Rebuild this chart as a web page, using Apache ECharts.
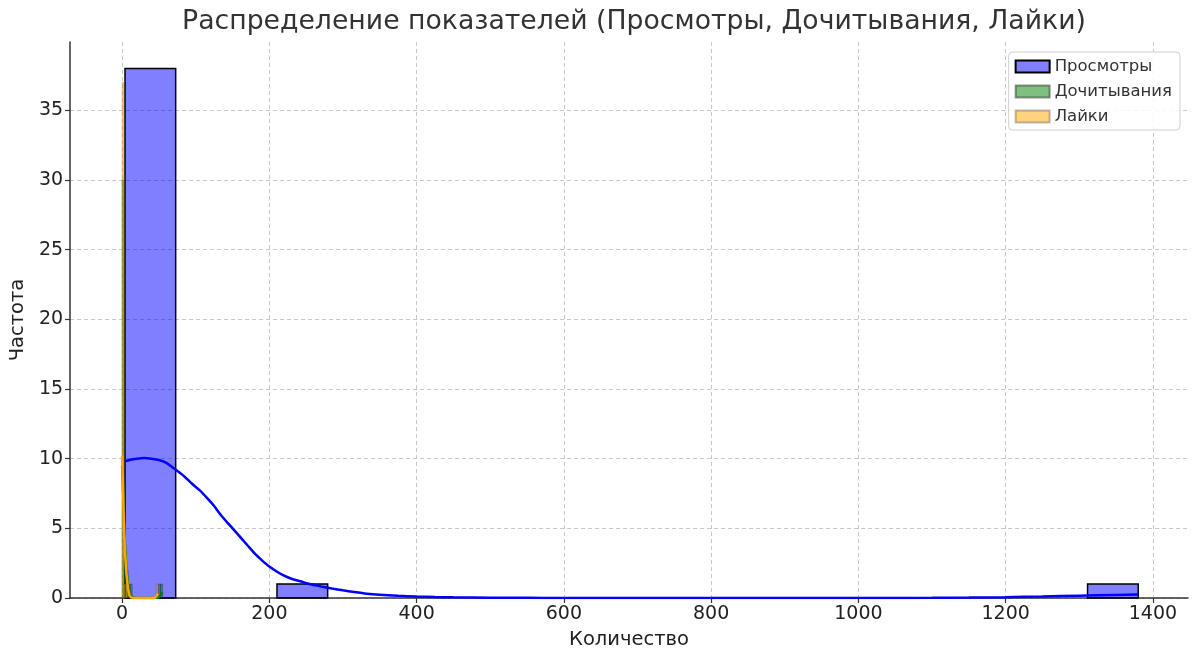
<!DOCTYPE html>
<html><head><meta charset="utf-8">
<script src="https://cdn.jsdelivr.net/npm/echarts@6/dist/echarts.min.js"></script>
<style>html,body{margin:0;padding:0;background:#fff}#c{width:1200px;height:662px}</style>
</head><body><div id="c"></div>
<script>
// Bin edges (left,right) and counts
const viewsBinStart = 4, viewsBinWidth = 68.8;
const viewsCounts = [38,0,0,1,0,0,0,0,0,0,0,0,0,0,0,0,0,0,0,1];
const readsBinStart = 0, readsBinWidth = 2.75;
const readsCounts = [30,3,2,1,1,0,0,0,0,0,0,0,0,0,0,0,0,0,1,1];
const likesBinStart = 0, likesBinWidth = 2.45;
const likesCounts = [37,1,1,0,0,0,0,0,0,0,0,0,0,0,0,0,0,0,0,1];

// KDE curves
const viewsKdeX = [4,10,20,30,40,50,60,73,85,95,106,115,125,135,145,151,160,170,180,190,199,210,220,230,242,255,270,285,300,315,332,350,375,400,425,450,500,550,600,700,1050,1100,1150,1200,1250,1300,1350,1380];
const viewsKdeY = [9.8,9.9,10.0,10.05,10.0,9.9,9.7,9.2,8.7,8.2,7.7,7.2,6.6,5.9,5.3,4.94,4.4,3.8,3.2,2.7,2.29,1.9,1.6,1.38,1.2,1.0,0.83,0.68,0.55,0.43,0.31,0.23,0.16,0.11,0.07,0.045,0.02,0.01,0.005,0,0,0.01,0.03,0.06,0.11,0.17,0.22,0.25];
const readsKdeX = [0,1,2,3,4,5,6,8,10,12,15,20,48,52,55];
const readsKdeY = [9.5,8.5,6.8,5.2,3.8,2.8,2.0,1.0,0.4,0.15,0.03,0,0,0.2,0.4];
const likesKdeX = [0,1,2,3,4,5,6,8,10,12,15,44,47,49];
const likesKdeY = [10.2,8.5,6.3,4.5,3.2,2.5,1.7,0.7,0.2,0.05,0,0,0.15,0.3];

const xTicks = [0,200,400,600,800,1000,1200,1400];
const yTicks = [0,5,10,15,20,25,30,35];
const names = ['Просмотры','Дочитывания','Лайки'];

function bins(start, w, counts){
  return counts.map((c,i)=>[start+i*w, start+(i+1)*w, c]).filter(d=>d[2]>0);
}
function pairs(xs, ys){ return xs.map((x,i)=>[x, ys[i]]); }

function histSeries(name, data, fill, stroke, lw){
  return {
    name, type:'custom', data, z:2,
    itemStyle:{color:fill, borderColor:stroke, borderWidth:lw},
    encode:{x:[0,1], y:2},
    renderItem:function(params, api){
      const p0 = api.coord([api.value(0), api.value(2)]);
      const p1 = api.coord([api.value(1), 0]);
      return {type:'rect', shape:{x:p0[0], y:p0[1], width:p1[0]-p0[0], height:p1[1]-p0[1]},
        style:{fill:fill, stroke:stroke, lineWidth:lw}};
    }
  };
}
function kdeSeries(name, data, color, sm){
  return {name, type:'line', data, smooth:sm, symbol:'none', z:5,
    lineStyle:{color, width:2.5}, itemStyle:{color}};
}

const font = 'DejaVu Sans';
const chart = echarts.init(document.getElementById('c'));
chart.setOption({
  animation:false,
  textStyle:{fontFamily:font},
  title:{text:'Распределение показателей (Просмотры, Дочитывания, Лайки)', left:629, top:4, textAlign:'center',
    textStyle:{fontFamily:font, fontSize:26.7, fontWeight:'normal', color:'#333'}},
  grid:{left:70, right:12, top:42, bottom:64},
  legend:{data:names.map(n=>({name:n})), orient:'vertical', right:20, top:52, itemWidth:34, itemHeight:12, itemGap:8,
    icon:'rect', backgroundColor:'rgba(255,255,255,0.85)', borderColor:'#d0d0d0', borderWidth:1, borderRadius:4,
    padding:[6,8,5,6], textStyle:{fontFamily:font, fontSize:16.5, color:'#333'}},
  xAxis:{type:'value', min:-70.6, max:1447.6, name:'Количество', nameLocation:'middle', nameGap:32,
    nameTextStyle:{fontFamily:font, fontSize:19.5, color:'#222'},
    axisLine:{onZero:false, lineStyle:{color:'#333', width:1.5}},
    axisTick:{show:true, customValues:xTicks, length:5, lineStyle:{color:'#333', width:1.2}},
    axisLabel:{customValues:xTicks, formatter:v=>String(v), fontFamily:font, fontSize:19, color:'#222', margin:7},
    splitLine:{show:true, lineStyle:{color:'#c8c8c8', type:[4,3], width:1}}},
  yAxis:{type:'value', min:0, max:39.9, name:'Частота', nameLocation:'middle', nameGap:42,
    nameTextStyle:{fontFamily:font, fontSize:19.5, color:'#222'},
    axisLine:{show:true, onZero:false, lineStyle:{color:'#333', width:1.5}},
    axisTick:{show:true, customValues:yTicks, length:5, lineStyle:{color:'#333', width:1.2}},
    axisLabel:{customValues:yTicks, formatter:v=>String(v), fontFamily:font, fontSize:19, color:'#222', margin:7},
    splitLine:{show:true, lineStyle:{color:'#c8c8c8', type:[4,3], width:1}}},
  series:[
    histSeries(names[0], bins(viewsBinStart, viewsBinWidth, viewsCounts), 'rgba(0,0,255,0.5)', '#000', 1.5),
    histSeries(names[1], bins(readsBinStart, readsBinWidth, readsCounts), 'rgba(0,128,0,0.5)', 'rgba(0,0,0,0.4)', 0.6),
    histSeries(names[2], bins(likesBinStart, likesBinWidth, likesCounts), 'rgba(255,165,0,0.5)', 'rgba(0,0,0,0.25)', 0.6),
    kdeSeries('kde1', pairs(viewsKdeX, viewsKdeY), '#0000ff', 0.25),
    kdeSeries('kde2', pairs(readsKdeX, readsKdeY), '#008000', false),
    kdeSeries('kde3', pairs(likesKdeX, likesKdeY), '#ffa500', false)
  ]
});
</script></body></html>
